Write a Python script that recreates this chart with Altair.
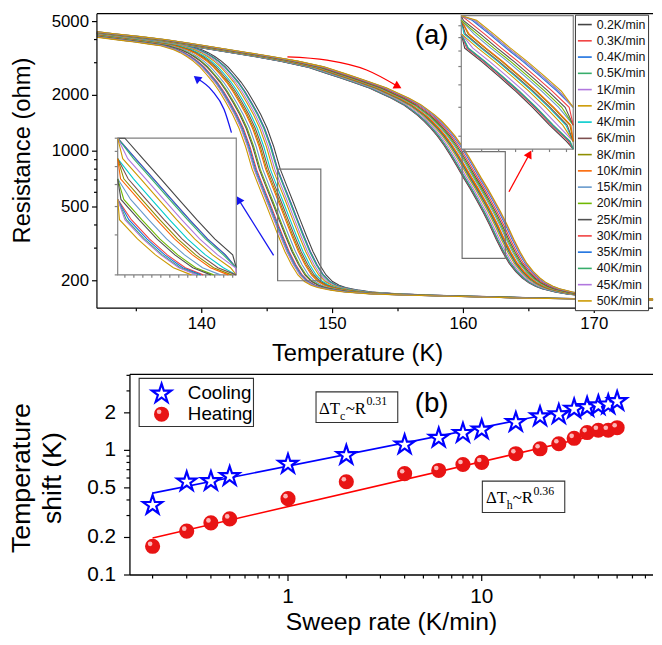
import altair as alt
import pandas as pd

# ---------------- data ----------------
RATES = ["0.2", "0.3", "0.4", "0.5", "1", "2", "4", "6", "8", "10",
         "15", "20", "25", "30", "35", "40", "45", "50"]
RATE_VALUES = [0.2, 0.3, 0.4, 0.5, 1, 2, 4, 6, 8, 10, 15, 20, 25, 30, 35, 40, 45, 50]
LABELS = [r + "K/min" for r in RATES]
COLORS = ["#444444", "#F14040", "#1A6FDF", "#37AD6B", "#B177DE", "#CC9900",
          "#00CBCC", "#7D4E4E", "#8E8E00", "#FB6501", "#6699CC", "#6FB802",
          "#515151", "#F14040", "#1A6FDF", "#37AD6B", "#B177DE", "#CC9900"]

# temperature shifts (K), panel (b)
SHIFT_COOL = [0.37, 0.57, 0.575, 0.63, 0.79, 0.93, 1.13, 1.28, 1.40, 1.49,
              1.71, 1.90, 1.98, 2.19, 2.26, 2.33, 2.37, 2.52]
SHIFT_HEAT = [0.17, 0.225, 0.262, 0.282, 0.41, 0.56, 0.65, 0.69, 0.77, 0.80,
              0.94, 1.03, 1.13, 1.25, 1.39, 1.45, 1.45, 1.52]

# power-law fits (end points)
FIT_RATE = [0.2, 50]
FIT_COOL = [0.454, 2.51]
FIT_HEAT = [0.198, 1.45]

# R(T) of the 0.2 K/min cooling curve
COOL_T = [129, 132, 134, 136, 137, 138, 139, 140, 140.5, 141, 141.5, 142, 142.5,
          143, 143.5, 144, 144.5, 145, 145.5, 146, 146.5, 147, 147.5, 148, 148.5,
          149, 149.5, 150, 150.5, 151, 152, 153, 155, 158, 161, 164, 167, 170, 174, 178]
COOL_R = [4550, 4300, 4130, 3960, 3880, 3790, 3700, 3520, 3400, 3240, 3060, 2850, 2600,
          2360, 2100, 1830, 1580, 1330, 1060, 800, 650, 530, 430, 350, 288,
          245, 215, 198, 189, 184, 178, 174, 170, 167, 165, 163, 161, 160, 158, 157]

# R(T) of the 0.2 K/min heating curve
HEAT_T = [129, 132, 134, 136, 138, 140, 142, 144, 146, 148, 149.6, 150.5, 151.5, 152.8,
          153.5, 154.5, 155.4, 156, 156.5, 157, 157.5, 158, 158.5, 159, 159.5, 160,
          160.5, 161, 161.5, 162, 162.5, 163, 163.5, 164, 164.5, 165, 165.5, 166,
          167, 168, 170, 172, 174, 177]
HEAT_R = [4550, 4300, 4150, 3990, 3800, 3600, 3420, 3240, 3060, 2850, 2620, 2500, 2360, 2190,
          2080, 1930, 1782, 1660, 1560, 1450, 1330, 1210, 1080, 950, 830, 720,
          630, 545, 470, 400, 335, 285, 248, 224, 207, 195, 187, 181,
          174, 169, 164, 161, 159, 157]

# zoom windows (T1, T2, R1, R2)
ZOOM_COOL = [145.8, 149.1, 200, 800]
ZOOM_HEAT = [159.9, 163.2, 264, 995]

# tick values / labels
A_X_MAJOR = [140, 150, 160, 170]
A_X_MINOR = [135, 145, 155, 165]
A_Y_MAJOR = [200, 500, 1000, 2000, 5000]
A_Y_MINOR = [300, 400, 600, 700, 800, 900, 3000, 4000]
B_X_MAJOR = [1, 10]
B_X_MINOR = [0.2, 0.3, 0.4, 0.5, 0.6, 0.7, 0.8, 0.9, 2, 3, 4, 5, 6, 7, 8, 9,
             20, 30, 40, 50, 60, 70]
B_Y_MAJOR = [0.1, 0.2, 0.5, 1, 2]
B_Y_MAJOR_TEXT = ["0.1", "0.2", "0.5", "1", "2"]
B_Y_MINOR = [0.3, 0.4, 0.6, 0.7, 0.8, 0.9, 3, 4]
INSET_L_XT = [146, 146.25, 146.5, 146.75, 147, 147.25, 147.5, 147.75, 148, 148.25,
              148.5, 148.75, 149]
INSET_L_YT = [200, 300, 400, 500, 600, 700, 800]
INSET_R_XT = [160, 160.5, 161, 161.5, 162, 162.5, 163]
INSET_R_YT = [300, 400, 500, 600, 700, 800, 900]

# ---------------- tables ----------------
rows = []
for i, lab in enumerate(LABELS):
    dc = SHIFT_COOL[i] - SHIFT_COOL[0]
    dh = SHIFT_HEAT[i] - SHIFT_HEAT[0]
    for t, r in zip(COOL_T, COOL_R):
        rows.append({"T": round(t - dc, 4), "R": r, "label": lab, "branch": "cool"})
    for t, r in zip(HEAT_T, HEAT_R):
        rows.append({"T": round(t + dh, 4), "R": r, "label": lab, "branch": "heat"})
curves = pd.DataFrame(rows)


def window_rows(branch, win):
    t1, t2, r1, r2 = win
    out = []
    for lab in LABELS:
        d = curves[(curves.label == lab) & (curves.branch == branch)].sort_values("T")
        pts = list(zip(d["T"], d["R"]))
        inside = [t1 <= t <= t2 and r1 <= r <= r2 for t, r in pts]
        for j, (t, r) in enumerate(pts):
            if inside[j] or (j > 0 and inside[j - 1]) or (j < len(pts) - 1 and inside[j + 1]):
                out.append({"T": float(t), "R": float(r), "label": lab})
    return pd.DataFrame(out)


inset_cool = window_rows("cool", ZOOM_COOL)
inset_heat = window_rows("heat", ZOOM_HEAT)

shifts = pd.DataFrame({"rate": RATE_VALUES, "cool": SHIFT_COOL, "heat": SHIFT_HEAT})
fits = pd.DataFrame({"rate": FIT_RATE, "cool": FIT_COOL, "heat": FIT_HEAT})
one = pd.DataFrame({"a": [0]})

FONT = "Liberation Sans"
SERIF = "Liberation Serif"
# five-pointed star as a custom symbol path
STAR = ("M0,-0.905L0.2245,-0.214L0.951,-0.214L0.3633,0.213L0.5878,0.904L0,0.477"
        "L-0.5878,0.904L-0.3633,0.213L-0.951,-0.214L-0.2245,-0.214Z")

# one view: panel (a) on top, panel (b) below
W = 562.7
H = 568
A_BOTTOM = 298
B_LEFT, B_TOP = 33.4, 365


# ---------------- helpers ----------------
def txt(s, x, y, size, font=FONT, align="left", baseline="middle", angle=0):
    return alt.Chart(one).mark_text(text=s, fontSize=size, font=font, align=align,
                                    baseline=baseline, color="black", angle=angle).encode(
        x=alt.value(x), y=alt.value(y))


def rule_px(x1, x2, y1, y2, col="black", w=1.2):
    return alt.Chart(one).mark_rule(color=col, strokeWidth=w).encode(
        x=alt.value(x1), x2=alt.value(x2), y=alt.value(y1), y2=alt.value(y2))


def ticks_x(vals, scale, y0, length, col="black"):
    return alt.Chart(pd.DataFrame({"v": vals})).mark_rule(color=col, strokeWidth=1.2).encode(
        x=alt.X("v:Q", scale=scale, axis=None), y=alt.value(y0), y2=alt.value(y0 + length))


def ticks_y(vals, scale, x0, length, col="black"):
    return alt.Chart(pd.DataFrame({"v": vals})).mark_rule(color=col, strokeWidth=1.2).encode(
        y=alt.Y("v:Q", scale=scale, axis=None), x=alt.value(x0 - length), x2=alt.value(x0))


def labels_x(vals, texts, scale, y, size):
    return alt.Chart(pd.DataFrame({"v": vals, "t": texts})).mark_text(
        fontSize=size, font=FONT, align="center", baseline="top", color="black").encode(
        x=alt.X("v:Q", scale=scale, axis=None), y=alt.value(y), text="t:N")


def labels_y(vals, texts, scale, x, size):
    return alt.Chart(pd.DataFrame({"v": vals, "t": texts})).mark_text(
        fontSize=size, font=FONT, align="right", baseline="middle", color="black").encode(
        y=alt.Y("v:Q", scale=scale, axis=None), x=alt.value(x), text="t:N")


# ---------------- panel (a) ----------------
XA = alt.Scale(domain=[131.99, 174.49], range=[0, W], nice=False, zero=False)
YA = alt.Scale(type="log", domain=[142.3, 5515], range=[A_BOTTOM, 0], nice=False)

LEGEND_A = alt.Legend(orient="none", legendX=483.7, legendY=1, title=None,
                      symbolType="stroke", symbolSize=196, symbolStrokeWidth=1.6,
                      labelFontSize=12.5, labelFont=FONT, labelColor="#111111",
                      rowPadding=1.45, padding=2, strokeColor="#333333",
                      fillColor="white", labelLimit=120)
COLOR = alt.Color("label:N", scale=alt.Scale(domain=LABELS, range=COLORS), legend=LEGEND_A)

main_curves = alt.Chart(curves).mark_line(strokeWidth=1.1, clip=True).encode(
    x=alt.X("T:Q", scale=XA, axis=None),
    y=alt.Y("R:Q", scale=YA, axis=None),
    color=COLOR,
    detail="branch:N",
)

zoom_df = pd.DataFrame({"t1": [ZOOM_COOL[0], ZOOM_HEAT[0]], "t2": [ZOOM_COOL[1], ZOOM_HEAT[1]],
                        "r1": [ZOOM_COOL[2], ZOOM_HEAT[2]], "r2": [ZOOM_COOL[3], ZOOM_HEAT[3]]})
zoom_rects = alt.Chart(zoom_df).mark_rect(fillOpacity=0, stroke="#707070", strokeWidth=1.2).encode(
    x=alt.X("t1:Q", scale=XA, axis=None), x2="t2:Q",
    y=alt.Y("r1:Q", scale=YA, axis=None), y2="r2:Q")

red_arrows = pd.DataFrame({"T": [146.55, 149.57, 152.6, 155.0, 163.48, 165.05],
                           "R": [3226, 3097, 2741, 2234, 604, 966],
                           "id": ["a", "a", "a", "a", "b", "b"]})
blue_arrows = pd.DataFrame({"T": [142.27, 141.71, 140.8, 139.62, 145.49, 142.82],
                            "R": [1259, 1678, 2117, 2472, 274, 548],
                            "id": ["a", "a", "a", "a", "b", "b"]})
HEADS = [(155.0, 2234, 118, "#FF0000"), (165.05, 966, 29, "#FF0000"),
         (139.62, 2472, 309, "#1515F0"), (142.82, 548, 328, "#1515F0")]


def arrow_line(df, col):
    return alt.Chart(df).mark_line(color=col, strokeWidth=1.3, interpolate="monotone").encode(
        x=alt.X("T:Q", scale=XA, axis=None), y=alt.Y("R:Q", scale=YA, axis=None), detail="id:N")


head_layers = [
    alt.Chart(pd.DataFrame({"T": [t], "R": [r]})).mark_point(
        shape="triangle-up", filled=True, color=col, size=80, opacity=1, angle=ang).encode(
        x=alt.X("T:Q", scale=XA, axis=None), y=alt.Y("R:Q", scale=YA, axis=None))
    for t, r, ang, col in HEADS
]

axes_a = [
    rule_px(0, 0, 0, A_BOTTOM), rule_px(0, W, A_BOTTOM, A_BOTTOM), rule_px(0, W, 0, 0),
    ticks_x(A_X_MAJOR, XA, A_BOTTOM, 5), ticks_x(A_X_MINOR, XA, A_BOTTOM, 3),
    ticks_y(A_Y_MAJOR, YA, 0, 5), ticks_y(A_Y_MINOR, YA, 0, 3),
    labels_x(A_X_MAJOR, [str(v) for v in A_X_MAJOR], XA, A_BOTTOM + 8, 17),
    labels_y(A_Y_MAJOR, [str(v) for v in A_Y_MAJOR], YA, -8, 17),
    txt("Temperature (K)", 263.7, 344.5, 24, align="center"),
    txt("Resistance (ohm)", -74.3, 138.5, 24, align="center", angle=270),
]

layer_a = alt.layer(main_curves, zoom_rects, arrow_line(red_arrows, "#FF0000"),
                    arrow_line(blue_arrows, "#1515F0"), *head_layers,
                    txt("(a)", 338.7, 23, 28, align="center"), *axes_a)


def inset(df, win, xr, yr, xvals, yvals):
    t1, t2, r1, r2 = win
    xs = alt.Scale(domain=[t1, t2], range=xr, clamp=True, nice=False, zero=False)
    ys = alt.Scale(type="log", domain=[r1, r2], range=yr, clamp=True, nice=False)
    box = pd.DataFrame({"t1": [t1], "t2": [t2], "r1": [r1], "r2": [r2]})
    frame = alt.Chart(box).mark_rect(fill="white", stroke="#808080", strokeWidth=1.2).encode(
        x=alt.X("t1:Q", scale=xs, axis=None), x2="t2:Q",
        y=alt.Y("r1:Q", scale=ys, axis=None), y2="r2:Q")
    lines = alt.Chart(df).mark_line(strokeWidth=1.1).encode(
        x=alt.X("T:Q", scale=xs, axis=None), y=alt.Y("R:Q", scale=ys, axis=None),
        color=COLOR, detail="label:N")
    tx = ticks_x(xvals, xs, yr[0], 3, "#808080")
    ty = ticks_y(yvals, ys, xr[0], 3, "#808080")
    return alt.layer(frame, lines, tx, ty)


inset_l = inset(inset_cool, ZOOM_COOL, [21, 141], [264.3, 126], INSET_L_XT, INSET_L_YT)
inset_r = inset(inset_heat, ZOOM_HEAT, [368.7, 482], [137, 2], INSET_R_XT, INSET_R_YT)

# ---------------- panel (b) ----------------
XB = alt.Scale(type="log", domain=[0.1528, 76.6], range=[B_LEFT, W], nice=False)
YB = alt.Scale(type="log", domain=[0.1, 4.07], range=[H, B_TOP], nice=False)

BALL = "#E81414"
HILITE = "#FFC8C8"

fit_c = alt.Chart(fits).mark_line(color="#0000FF", strokeWidth=1.6).encode(
    x=alt.X("rate:Q", scale=XB, axis=None), y=alt.Y("cool:Q", scale=YB, axis=None))
fit_h = alt.Chart(fits).mark_line(color="#FF0000", strokeWidth=1.6).encode(
    x=alt.X("rate:Q", scale=XB, axis=None), y=alt.Y("heat:Q", scale=YB, axis=None))
stars = alt.Chart(shifts).mark_point(shape=STAR, size=420, filled=True, fill="white",
                                     stroke="#0000FF", strokeWidth=2.2, opacity=1).encode(
    x=alt.X("rate:Q", scale=XB, axis=None), y=alt.Y("cool:Q", scale=YB, axis=None))
balls = alt.Chart(shifts).mark_circle(size=235, color=BALL, opacity=1).encode(
    x=alt.X("rate:Q", scale=XB, axis=None), y=alt.Y("heat:Q", scale=YB, axis=None))
ball_hi = alt.Chart(shifts).mark_circle(size=22, color=HILITE, opacity=0.9,
                                        xOffset=-2.5, yOffset=-2.5).encode(
    x=alt.X("rate:Q", scale=XB, axis=None), y=alt.Y("heat:Q", scale=YB, axis=None))


def rect_px(x1, x2, y1, y2):
    return alt.Chart(one).mark_rect(fill="white", stroke="#333333", strokeWidth=1.1).encode(
        x=alt.value(x1), x2=alt.value(x2), y=alt.value(y1), y2=alt.value(y2))


bx, by = B_LEFT, B_TOP
leg_star = alt.Chart(one).mark_point(shape=STAR, size=420, filled=True, fill="white",
                                     stroke="#0000FF", strokeWidth=2.2, opacity=1).encode(
    x=alt.value(bx + 32), y=alt.value(by + 18.7))
leg_ball = alt.Chart(one).mark_circle(size=235, color=BALL, opacity=1).encode(
    x=alt.value(bx + 32), y=alt.value(by + 40.3))
leg_hi = alt.Chart(one).mark_circle(size=22, color=HILITE, opacity=0.9).encode(
    x=alt.value(bx + 29.5), y=alt.value(by + 37.8))

axes_b = [
    rule_px(bx, bx, by, H, w=1.3), rule_px(bx, W, H, H, w=1.3), rule_px(bx, W, by, by),
    ticks_x(B_X_MAJOR, XB, H, 6), ticks_x(B_X_MINOR, XB, H, 3.5),
    ticks_y(B_Y_MAJOR, YB, bx, 6), ticks_y(B_Y_MINOR, YB, bx, 3.5),
    labels_x(B_X_MAJOR, [str(v) for v in B_X_MAJOR], XB, H + 11, 21),
    labels_y(B_Y_MAJOR, B_Y_MAJOR_TEXT, YB, bx - 14, 21),
    txt("Sweep rate (K/min)", (bx + W) / 2, 616, 25, align="center"),
    txt("Temperature", -75.8, 470, 27, align="center", angle=270),
    txt("shift (K)", -44.8, 470, 27, align="center", angle=270),
]

layer_b = alt.layer(
    fit_c, fit_h, stars, balls, ball_hi,
    rect_px(bx + 9.3, bx + 125, by + 4, by + 52.7), leg_star, leg_ball, leg_hi,
    txt("Cooling", bx + 58.6, by + 18.7, 19),
    txt("Heating", bx + 58.6, by + 40.3, 19),
    txt("(b)", bx + 305.3, by + 30, 28, align="center"),
    rect_px(bx + 188.3, bx + 271, by + 17.7, by + 48.7),
    rect_px(bx + 356.6, bx + 440, by + 108, by + 139.7),
    txt("\u0394T", bx + 191.3, by + 40.3, 17, SERIF, baseline="alphabetic"),
    txt("c", bx + 212.5, by + 46.5, 12, SERIF, baseline="alphabetic"),
    txt("~R", bx + 218.3, by + 40.3, 17, SERIF, baseline="alphabetic"),
    txt("0.31", bx + 239.3, by + 31, 12, SERIF, baseline="alphabetic"),
    txt("\u0394T", bx + 360.3, by + 130.5, 17, SERIF, baseline="alphabetic"),
    txt("h", bx + 381.3, by + 136.5, 12, SERIF, baseline="alphabetic"),
    txt("~R", bx + 387.3, by + 130.5, 17, SERIF, baseline="alphabetic"),
    txt("0.36", bx + 408.3, by + 122, 12, SERIF, baseline="alphabetic"),
    *axes_b,
)

chart = alt.layer(layer_a, inset_l, inset_r, layer_b).resolve_scale(
    x="independent", y="independent"
).properties(width=W, height=H, padding=0, background="white").configure_view(
    stroke=None
)

chart.save("out.html", embed_options={"renderer": "svg", "actions": False})
